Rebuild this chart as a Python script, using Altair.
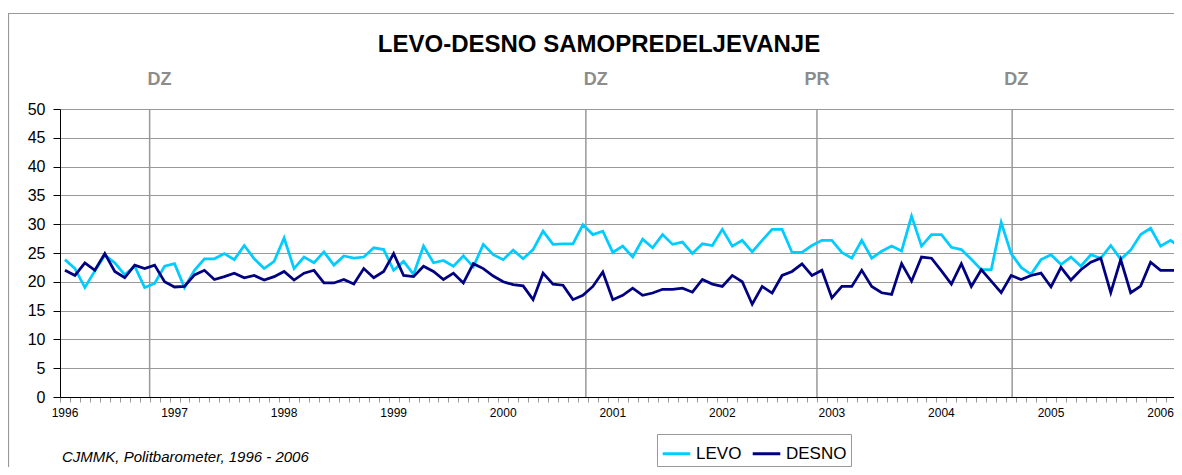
import altair as alt
import pandas as pd

# ---- data (one value per survey, 11 surveys per year) ----
levo = [23.85, 22.3, 19.0, 21.9, 24.6, 23.3, 21.2, 22.7, 19.0, 19.7, 22.7,
        23.15, 19.0, 22.0, 24.0, 24.0, 24.9, 23.85, 26.3, 24.0, 22.3, 23.55,
        27.6, 22.3, 24.3, 23.3, 25.2, 22.9, 24.5, 24.1, 24.3, 25.9, 25.6,
        22.0, 23.55, 21.3, 26.2, 23.3, 23.7, 22.7, 24.5, 22.6, 26.5, 24.7,
        23.85, 25.5, 24.0, 25.6, 28.8, 26.5, 26.6, 26.6, 29.9, 28.2, 28.8,
        25.1, 26.2, 24.3, 27.4, 25.9, 28.2, 26.5, 26.9, 24.9, 26.6, 26.3,
        29.1, 26.2, 27.2, 25.2, 27.2, 29.1, 29.1, 25.1, 25.1, 26.3, 27.2,
        27.2, 25.1, 24.1, 27.2, 24.1, 25.3, 26.2, 25.35, 31.4, 26.2, 28.2,
        28.2, 26.0, 25.6, 23.9, 22.1, 22.1, 30.3, 24.9, 22.5, 21.3, 23.85,
        24.7, 23.0, 24.3, 22.7, 24.7, 24.1, 26.3, 23.9, 25.5, 28.2, 29.3,
        26.2, 27.2, 26.0]
desno = [22.0, 21.1, 23.3, 22.0, 24.9, 21.8, 20.7, 22.9, 22.3, 22.9, 20.0,
         19.1, 19.2, 21.2, 22.0, 20.4, 20.9, 21.5, 20.7, 21.1, 20.3, 20.9,
         21.8, 20.3, 21.5, 22.0, 19.8, 19.8, 20.4, 19.6, 22.3, 20.7, 21.8,
         24.9, 21.1, 20.9, 22.7, 21.8, 20.4, 21.5, 19.8, 23.15, 22.3, 21.0,
         20.0, 19.5, 19.3, 16.9, 21.5, 19.6, 19.4, 16.9, 17.65, 19.2, 21.7,
         16.9, 17.65, 18.9, 17.65, 18.05, 18.7, 18.7, 18.9, 18.2, 20.4, 19.6,
         19.2, 21.1, 20.0, 16.1, 19.2, 18.05, 21.1, 21.8, 23.1, 21.1, 22.0,
         17.2, 19.2, 19.2, 22.0, 19.2, 18.1, 17.8, 23.15, 20.1, 24.3, 24.1,
         21.9, 19.6, 23.15, 19.2, 22.1, 20.1, 18.1, 21.1, 20.4, 21.1, 21.5,
         19.1, 22.5, 20.3, 22.1, 23.4, 24.1, 18.1, 23.85, 18.1, 19.25, 23.4,
         22.0, 22.0, 22.0]
series_names = ["LEVO", "DESNO"]
series_colors = ["#00CCFF", "#000080"]
year_labels = ["1996", "1997", "1998", "1999", "2000", "2001",
               "2002", "2003", "2004", "2005", "2006"]
surveys_per_year = 11
event_labels = ["DZ", "DZ", "PR", "DZ"]
event_pos = [8.5, 52.3, 75.5, 95.1]          # in survey-index units
event_label_pos = [9.5, 53.3, 75.5, 95.5]
y_ticks = list(range(0, 51, 5))

n = len(levo)
rows = []
for i in range(n):
    rows.append({"k": i, "value": levo[i], "series": "LEVO"})
for i in range(n):
    rows.append({"k": i, "value": desno[i], "series": "DESNO"})
df = pd.DataFrame(rows)

years_df = pd.DataFrame({"label": year_labels,
                         "k": [i * surveys_per_year for i in range(len(year_labels))]})
events_df = pd.DataFrame({"label": event_labels, "k": event_pos, "lk": event_label_pos})

W, H = 1114, 288
FONT = "Liberation Sans"
xscale = alt.Scale(domain=[-0.5, 111.35], nice=False, zero=False)
yscale = alt.Scale(domain=[0, 50], nice=False)

color = alt.Color(
    "series:N",
    scale=alt.Scale(domain=series_names, range=series_colors),
    legend=alt.Legend(
        title=None, orient="none", legendX=597, legendY=325,
        direction="horizontal", symbolType="stroke", symbolStrokeWidth=3,
        symbolSize=760, labelFontSize=17, labelFont=FONT, labelColor="black",
        strokeColor="#999999", fillColor="white", padding=4,
        columnPadding=4, labelOffset=4, labelLimit=200,
    ),
)

xaxis = alt.Axis(values=[i - 0.5 for i in range(0, 113)], labels=False,
                 ticks=True, tickSize=5, tickColor="#999999", domainColor="black",
                 grid=False, title=None)
yaxis = alt.Axis(values=y_ticks, tickCount=11, grid=True, gridColor="#999999",
                 gridWidth=1.2, tickSize=7, tickColor="black", domainColor="black",
                 labelFontSize=16, labelPadding=8, labelFont=FONT,
                 labelColor="black", labelOverlap=False, title=None)

base = alt.Chart(df)

levo_line = base.transform_filter(alt.datum.series == "LEVO").mark_line(
    strokeWidth=2.75, clip=True).encode(
    x=alt.X("k:Q", scale=xscale, axis=xaxis),
    y=alt.Y("value:Q", scale=yscale, axis=yaxis),
    color=color,
)
desno_line = base.transform_filter(alt.datum.series == "DESNO").mark_line(
    strokeWidth=2.75, clip=True).encode(
    x=alt.X("k:Q", scale=xscale, axis=xaxis),
    y=alt.Y("value:Q", scale=yscale, axis=yaxis),
    color=color,
)

event_rules = alt.Chart(events_df).mark_rule(color="#999999", strokeWidth=1.5).encode(
    x=alt.X("k:Q", scale=xscale, axis=xaxis), y=alt.value(0), y2=alt.value(H))
event_text = alt.Chart(events_df).mark_text(
    fontSize=18, fontWeight="bold", color="#8c8c8c", font=FONT, baseline="middle").encode(
    x=alt.X("lk:Q", scale=xscale, axis=xaxis), y=alt.value(-29), text="label:N")

year_text = alt.Chart(years_df).mark_text(
    fontSize=12, color="black", font=FONT, baseline="middle").encode(
    x=alt.X("k:Q", scale=xscale, axis=xaxis), y=alt.value(H + 16), text="label:N")

title_df = pd.DataFrame({"t": ["LEVO-DESNO SAMOPREDELJEVANJE"]})
title = alt.Chart(title_df).mark_text(
    fontSize=24, fontWeight="bold", color="black", font=FONT, baseline="middle").encode(
    x=alt.value(539), y=alt.value(-64), text="t:N")

src_df = pd.DataFrame({"t": ["CJMMK, Politbarometer, 1996 - 2006"]})
source = alt.Chart(src_df).mark_text(
    fontSize=15, fontStyle="italic", color="black", font=FONT, align="left",
    baseline="middle").encode(x=alt.value(2), y=alt.value(348), text="t:N")

border = alt.Chart(title_df).mark_rect(
    fill="white", fillOpacity=0, stroke="#999999", strokeWidth=1.2).encode(
    x=alt.value(-51.5), x2=alt.value(W + 40), y=alt.value(-95.5), y2=alt.value(H + 120))

chart = alt.layer(
    border, event_rules, levo_line, desno_line, event_text, year_text, title, source
).properties(
    width=W, height=H,
    autosize=alt.AutoSizeParams(type="none"),
    padding={"left": 52, "top": 101, "right": 0, "bottom": 70},
).configure_view(stroke=None).configure(font=FONT)

chart.save("out.html", embed_options={"renderer": "svg", "actions": False})
